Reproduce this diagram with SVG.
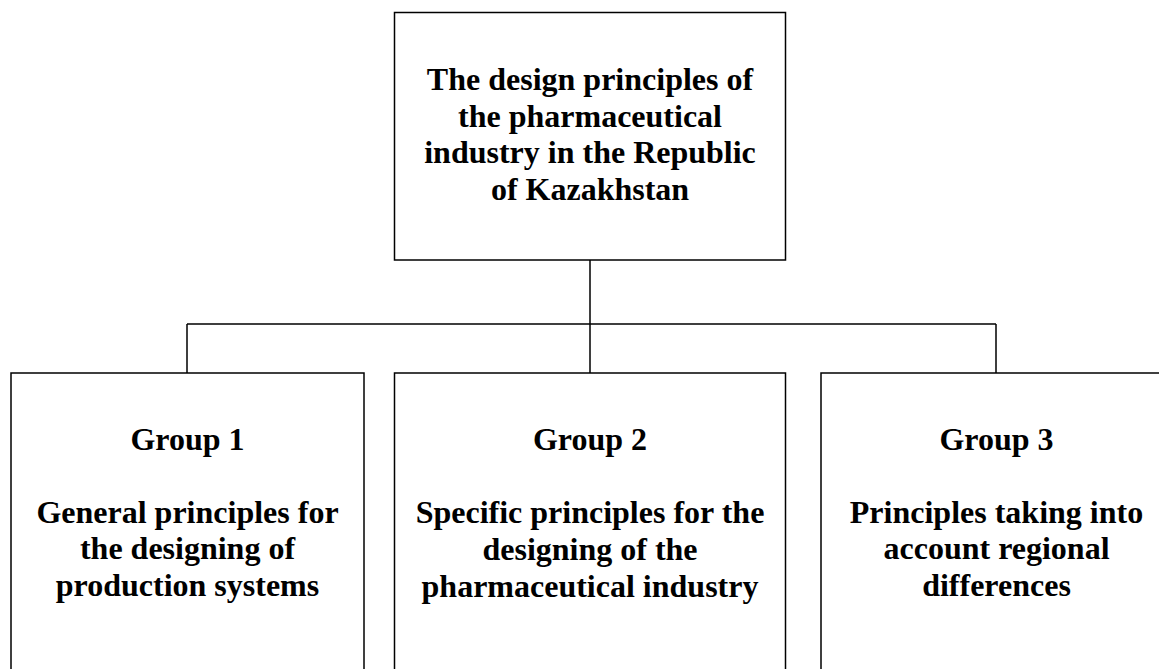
<svg xmlns="http://www.w3.org/2000/svg" width="1159" height="669" viewBox="0 0 1159 669">
<style>
.box{fill:#fff;stroke:#000;stroke-width:1.5}
.t{font-family:"Liberation Serif","Times New Roman",serif;font-weight:bold;font-size:32px;fill:#000;text-anchor:middle}
.c{fill:none;stroke:#000;stroke-width:1.5}
</style>
<rect width="1159" height="669" fill="#fff"/>
<g id="connectors">
<path class="c" d="M590,260 V324 M187,324 H996 M187,324 V373 M590,324 V373 M996,324 V373"/>
</g>
<g id="root">
<rect class="box" x="394.5" y="12.5" width="391" height="247.5"/>
<text class="t" x="590" y="90">The design principles of</text>
<text class="t" x="590" y="127">the pharmaceutical</text>
<text class="t" x="590" y="163">industry in the Republic</text>
<text class="t" x="590" y="200">of Kazakhstan</text>
</g>
<g id="group1">
<rect class="box" x="11" y="373" width="353" height="320"/>
<text class="t" x="187.5" y="450">Group 1</text>
<text class="t" x="187.5" y="523">General principles for</text>
<text class="t" x="187.5" y="559">the designing of</text>
<text class="t" x="187.5" y="596">production systems</text>
</g>
<g id="group2">
<rect class="box" x="394.5" y="373" width="391" height="320"/>
<text class="t" x="590" y="450">Group 2</text>
<text class="t" x="590" y="523">Specific principles for the</text>
<text class="t" x="590" y="560">designing of the</text>
<text class="t" x="590" y="597">pharmaceutical industry</text>
</g>
<g id="group3">
<rect class="box" x="821" y="373" width="360" height="320"/>
<text class="t" x="996.5" y="450">Group 3</text>
<text class="t" x="996.5" y="523">Principles taking into</text>
<text class="t" x="996.5" y="559">account regional</text>
<text class="t" x="996.5" y="596">differences</text>
</g>
</svg>
